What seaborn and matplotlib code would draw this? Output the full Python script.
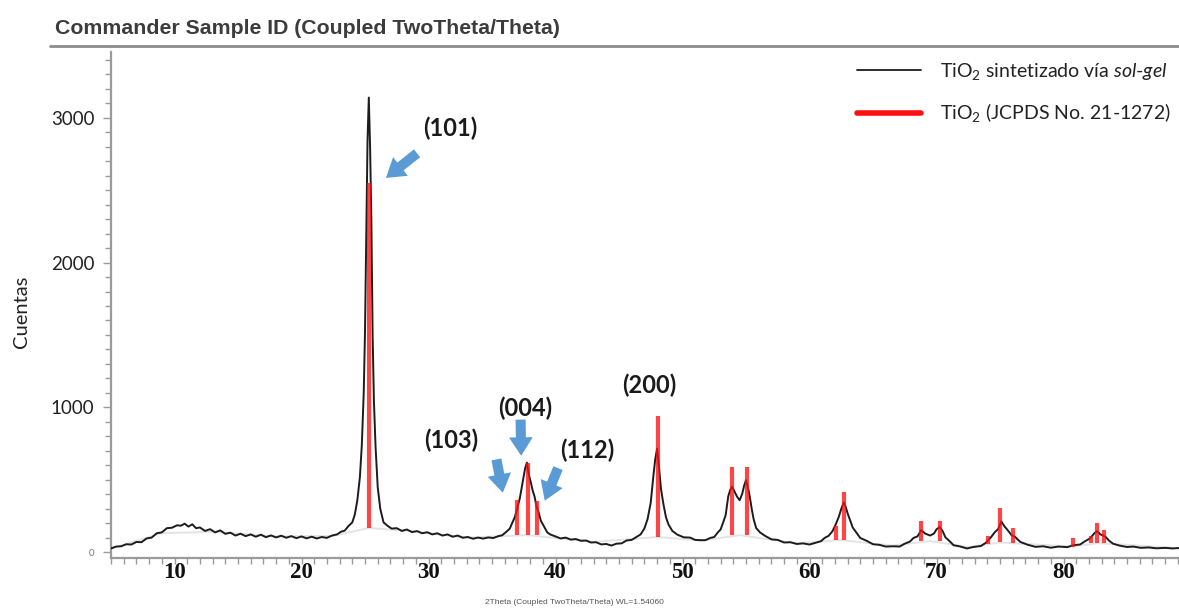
import numpy as np
import pandas as pd
import matplotlib
matplotlib.use("Agg")
import matplotlib.pyplot as plt
import seaborn as sns
from matplotlib.lines import Line2D
from matplotlib.ticker import MultipleLocator

# ---------------- data ----------------
two_theta = [5.0, 5.4, 5.8, 6.2, 6.6, 7.0, 7.4, 7.8, 8.2, 8.6, 9.0, 9.4, 9.8, 10.2, 10.5,
             10.8, 11.1, 11.4, 11.7, 12.0, 12.4, 12.8, 13.2, 13.6, 14.0, 14.4, 14.8, 15.2,
             15.6, 16.0, 16.4, 16.8, 17.2, 17.6, 18.0, 18.4, 18.8, 19.2, 19.6, 20.0, 20.4,
             20.8, 21.2, 21.6, 22.0, 22.4, 22.8, 23.1, 23.4, 23.7, 24.0, 24.2, 24.4, 24.6,
             24.75, 24.9, 25.0, 25.1, 25.2, 25.3, 25.4, 25.5, 25.6, 25.7, 25.83, 26.0, 26.2,
             26.46, 26.8, 27.1, 27.5, 27.9, 28.3, 28.7, 29.1, 29.5, 29.9, 30.3, 30.7, 31.1,
             31.5, 31.9, 32.3, 32.7, 33.1, 33.5, 33.9, 34.3, 34.7, 35.1, 35.5, 35.8, 36.1,
             36.4, 36.6, 36.8, 37.0, 37.2, 37.4, 37.6, 37.75, 37.9, 38.05, 38.2, 38.35, 38.5,
             38.65, 38.85, 39.1, 39.35, 39.6, 40.0, 40.4, 40.8, 41.2, 41.6, 42.0, 42.4, 42.8,
             43.2, 43.6, 44.0, 44.4, 44.8, 45.2, 45.6, 46.0, 46.4, 46.7, 47.0, 47.25, 47.5,
             47.7, 47.85, 48.0, 48.15, 48.3, 48.5, 48.7, 48.9, 49.2, 49.6, 50.1, 50.6, 51.0,
             51.4, 51.8, 52.2, 52.5, 52.8, 53.0, 53.2, 53.4, 53.6, 53.75, 53.9, 54.1, 54.3,
             54.5, 54.7, 54.85, 55.0, 55.15, 55.3, 55.45, 55.6, 55.8, 56.1, 56.5, 57.0, 57.5,
             58.0, 58.5, 59.0, 59.5, 60.0, 60.5, 60.9, 61.2, 61.5, 61.8, 62.05, 62.3, 62.5,
             62.7, 62.85, 63.0, 63.2, 63.4, 63.7, 64.0, 64.5, 65.0, 65.5, 66.0, 66.6, 67.1,
             67.5, 67.9, 68.2, 68.5, 68.8, 69.1, 69.5, 69.8, 70.0, 70.25, 70.5, 70.7, 71.0,
             71.35, 71.8, 72.4, 72.9, 73.5, 73.9, 74.25, 74.6, 74.85, 75.1, 75.35, 75.6, 75.9,
             76.2, 76.6, 77.2, 77.8, 78.4, 79.0, 79.6, 80.3, 80.8, 81.3, 81.7, 82.1, 82.4,
             82.65, 82.9, 83.3, 83.6, 83.9, 84.4, 85.0, 85.5, 86.1, 86.7, 87.3, 88.0, 88.6,
             89.1]
counts = [25, 38, 40, 54, 52, 70, 68, 94, 100, 130, 136, 165, 168, 185, 182,
          196, 176, 192, 165, 170, 146, 158, 136, 150, 126, 134, 114, 127,
          110, 122, 106, 120, 103, 115, 101, 113, 99, 110, 96, 108, 95,
          106, 94, 104, 98, 114, 122, 140, 148, 180, 205, 260, 360, 520,
          740, 1100, 1520, 2200, 2850, 3140, 2800, 2300, 1500, 1050, 730, 450, 300,
          205, 180, 162, 165, 146, 156, 138, 145, 130, 137, 122, 130, 114,
          122, 106, 114, 99, 104, 92, 100, 93, 101, 97, 110, 116, 138,
          162, 203, 242, 304, 376, 474, 576, 618, 536, 484, 426, 384, 316,
          280, 216, 176, 136, 121, 108, 94, 100, 86, 90, 78, 80, 66,
          68, 53, 56, 45, 58, 60, 80, 84, 106, 122, 163, 228, 342,
          520, 640, 715, 590, 440, 330, 240, 190, 146, 120, 102, 100, 84,
          82, 82, 98, 104, 138, 156, 204, 256, 384, 428, 452, 418, 382,
          358, 402, 458, 497, 448, 382, 298, 228, 166, 136, 112, 88, 84,
          66, 68, 56, 60, 52, 65, 75, 98, 112, 143, 188, 242, 298,
          345, 312, 268, 218, 170, 133, 97, 78, 54, 50, 38, 40, 38,
          58, 72, 98, 108, 152, 128, 114, 128, 157, 173, 142, 102, 78,
          47, 40, 25, 35, 42, 65, 98, 138, 158, 212, 178, 152, 118,
          104, 70, 50, 36, 40, 30, 38, 34, 48, 52, 75, 95, 127,
          145, 123, 106, 78, 58, 45, 35, 38, 29, 32, 26, 29, 25,
          28]

# faint fitted background under the peaks
bg_theta = [5.0, 9.0, 13.0, 18.0, 22.5, 25.3, 28.0, 33.0, 37.8, 43.0, 48.0, 51.5,
            54.5, 59.0, 62.4, 66.5, 69.5, 72.5, 75.0, 80.7, 82.7, 89.1]
bg_counts = [25, 130, 140, 108, 112, 166, 150, 100, 117, 70, 104, 80,
             117, 60, 83, 45, 76, 35, 66, 38, 62, 27]

# JCPDS 21-1272 reference sticks
stick_theta = [25.28, 36.95, 37.80, 38.58, 48.05, 53.89, 55.06, 62.12, 62.69,
               68.76, 70.31, 74.03, 75.03, 76.02, 80.73, 82.14, 82.66, 83.15]
stick_top = [2552, 359, 612, 352, 938, 587, 587, 180, 415,
             214, 214, 110, 304, 166, 97, 110, 200, 152]
stick_base = [166, 117, 117, 117, 104, 117, 117, 83, 83,
              76, 76, 55, 69, 62, 35, 62, 62, 62]

hkl_labels = ["(101)", "(103)", "(004)", "(112)", "(200)"]
hkl_label_theta = [31.7, 31.8, 37.6, 42.5, 47.4]
hkl_label_counts = [2930, 775, 995, 705, 1155]
arrow_tail_theta = [29.1, 35.35, 37.25, 40.2]
arrow_tail_counts = [2755, 640, 915, 580]
arrow_tip_theta = [26.65, 35.85, 37.3, 39.15]
arrow_tip_counts = [2585, 410, 665, 355]

x_tick_values = [10, 20, 30, 40, 50, 60, 70, 80]
y_tick_values = [0, 1000, 2000, 3000]

legend_labels = [r"TiO$_2$ sintetizado vía $\mathit{sol}$-$\mathit{gel}$",
                 r"TiO$_2$ (JCPDS No. 21-1272)"]

# ---------------- styling ----------------
sns.set_theme(style="white")
plt.rcParams["font.family"] = ["Lato", "DejaVu Sans"]
plt.rcParams["mathtext.fontset"] = "custom"
plt.rcParams["mathtext.rm"] = "Lato"
plt.rcParams["mathtext.it"] = "Lato:italic"
plt.rcParams["mathtext.bf"] = "Lato:bold"

W, H = 1179, 609
fig = plt.figure(figsize=(W / 100, H / 100), dpi=100)
ax = fig.add_axes([111 / W, 51 / H, 1068 / W, 506 / H])

df = pd.DataFrame({"two_theta": two_theta, "counts": counts})
sns.lineplot(data=df, x="two_theta", y="counts", ax=ax, color="#1c1c1c",
             lw=1.4, zorder=3, legend=False)
ax.plot(bg_theta, bg_counts, color="#e4e4e4", lw=1.4, zorder=1)
ax.vlines(stick_theta, stick_base, stick_top, colors="#ff1010", lw=3.0,
          alpha=0.78, zorder=4)

# annotations
for lab, xt, yt in zip(hkl_labels, hkl_label_theta, hkl_label_counts):
    ax.text(xt, yt, lab, fontsize=17, fontweight="bold", color="#1a1a1a",
            ha="center", va="center", family=["Lato", "DejaVu Sans"])
for xs, ys, xe, ye in zip(arrow_tail_theta, arrow_tail_counts,
                          arrow_tip_theta, arrow_tip_counts):
    ax.annotate("", xy=(xe, ye), xytext=(xs, ys),
                arrowprops=dict(arrowstyle="simple,head_length=0.7,head_width=0.9,tail_width=0.38",
                                color="#5b9bd5", mutation_scale=19,
                                shrinkA=0, shrinkB=0, lw=0))

ax.set_xlim(5.0, 5.0 + 1068 / 12.7)
ax.set_ylim(-41, 3455)

# axes look
for s in ["top", "right"]:
    ax.spines[s].set_visible(False)
for s in ["left", "bottom"]:
    ax.spines[s].set_color("#9a9a9a")
    ax.spines[s].set_linewidth(1.6)

ax.set_xticks(x_tick_values)
ax.set_xticklabels([str(v) for v in x_tick_values], fontsize=16.5,
                   fontweight="bold", family=["Liberation Serif", "DejaVu Serif"],
                   color="#111111")
ax.xaxis.set_minor_locator(MultipleLocator(1))
ax.tick_params(axis="x", which="both", direction="out", colors="#9a9a9a",
               length=4, width=1, pad=-1, bottom=True, labelcolor="#111111")

ax.set_yticks(y_tick_values)
ax.set_yticklabels([str(v) for v in y_tick_values], fontsize=13.5, color="#222222")
ax.yaxis.set_minor_locator(MultipleLocator(100))
ax.tick_params(axis="y", which="major", direction="out", colors="#9a9a9a",
               length=6, width=1, pad=6, left=True, labelcolor="#222222")
ax.tick_params(axis="y", which="minor", direction="out", colors="#9a9a9a",
               length=4, width=1, left=True)
zero_lab = ax.get_yticklabels()[0]
zero_lab.set_fontsize(7)
zero_lab.set_color("#777777")

ax.set_xlabel("")
ax.set_ylabel("")
fig.text(22 / W, 1 - 312 / H, "Cuentas", rotation=90, fontsize=14.5,
         color="#222222", ha="center", va="center")
fig.text(574 / W, 1 - 602 / H, "2Theta (Coupled TwoTheta/Theta) WL=1.54060",
         fontsize=6.0, color="#555555", ha="center", va="center",
         family=["Liberation Sans", "DejaVu Sans"])

# header
fig.text(55 / W, 1 - 28 / H, "Commander Sample ID (Coupled TwoTheta/Theta)",
         fontsize=15.3, fontweight="bold", color="#3c3c3c", ha="left", va="center",
         family=["Liberation Sans", "DejaVu Sans"])
fig.add_artist(Line2D([50 / W, 1.0], [1 - 46 / H, 1 - 46 / H],
                      color="#8c8c8c", lw=2.0))

# legend
handles = [Line2D([], [], color="#1c1c1c", lw=1.3),
           Line2D([], [], color="#ff1010", lw=4.0)]
leg = ax.legend(handles, legend_labels, loc="upper left",
                bbox_to_anchor=(857 / W, 1 - 61 / H), bbox_transform=fig.transFigure,
                frameon=False, borderpad=0, borderaxespad=0, fontsize=14,
                handlelength=3.3, handletextpad=0.95, labelspacing=1.0)
for t in leg.get_texts():
    t.set_color("#222222")

fig.savefig("out.png", dpi=100)
